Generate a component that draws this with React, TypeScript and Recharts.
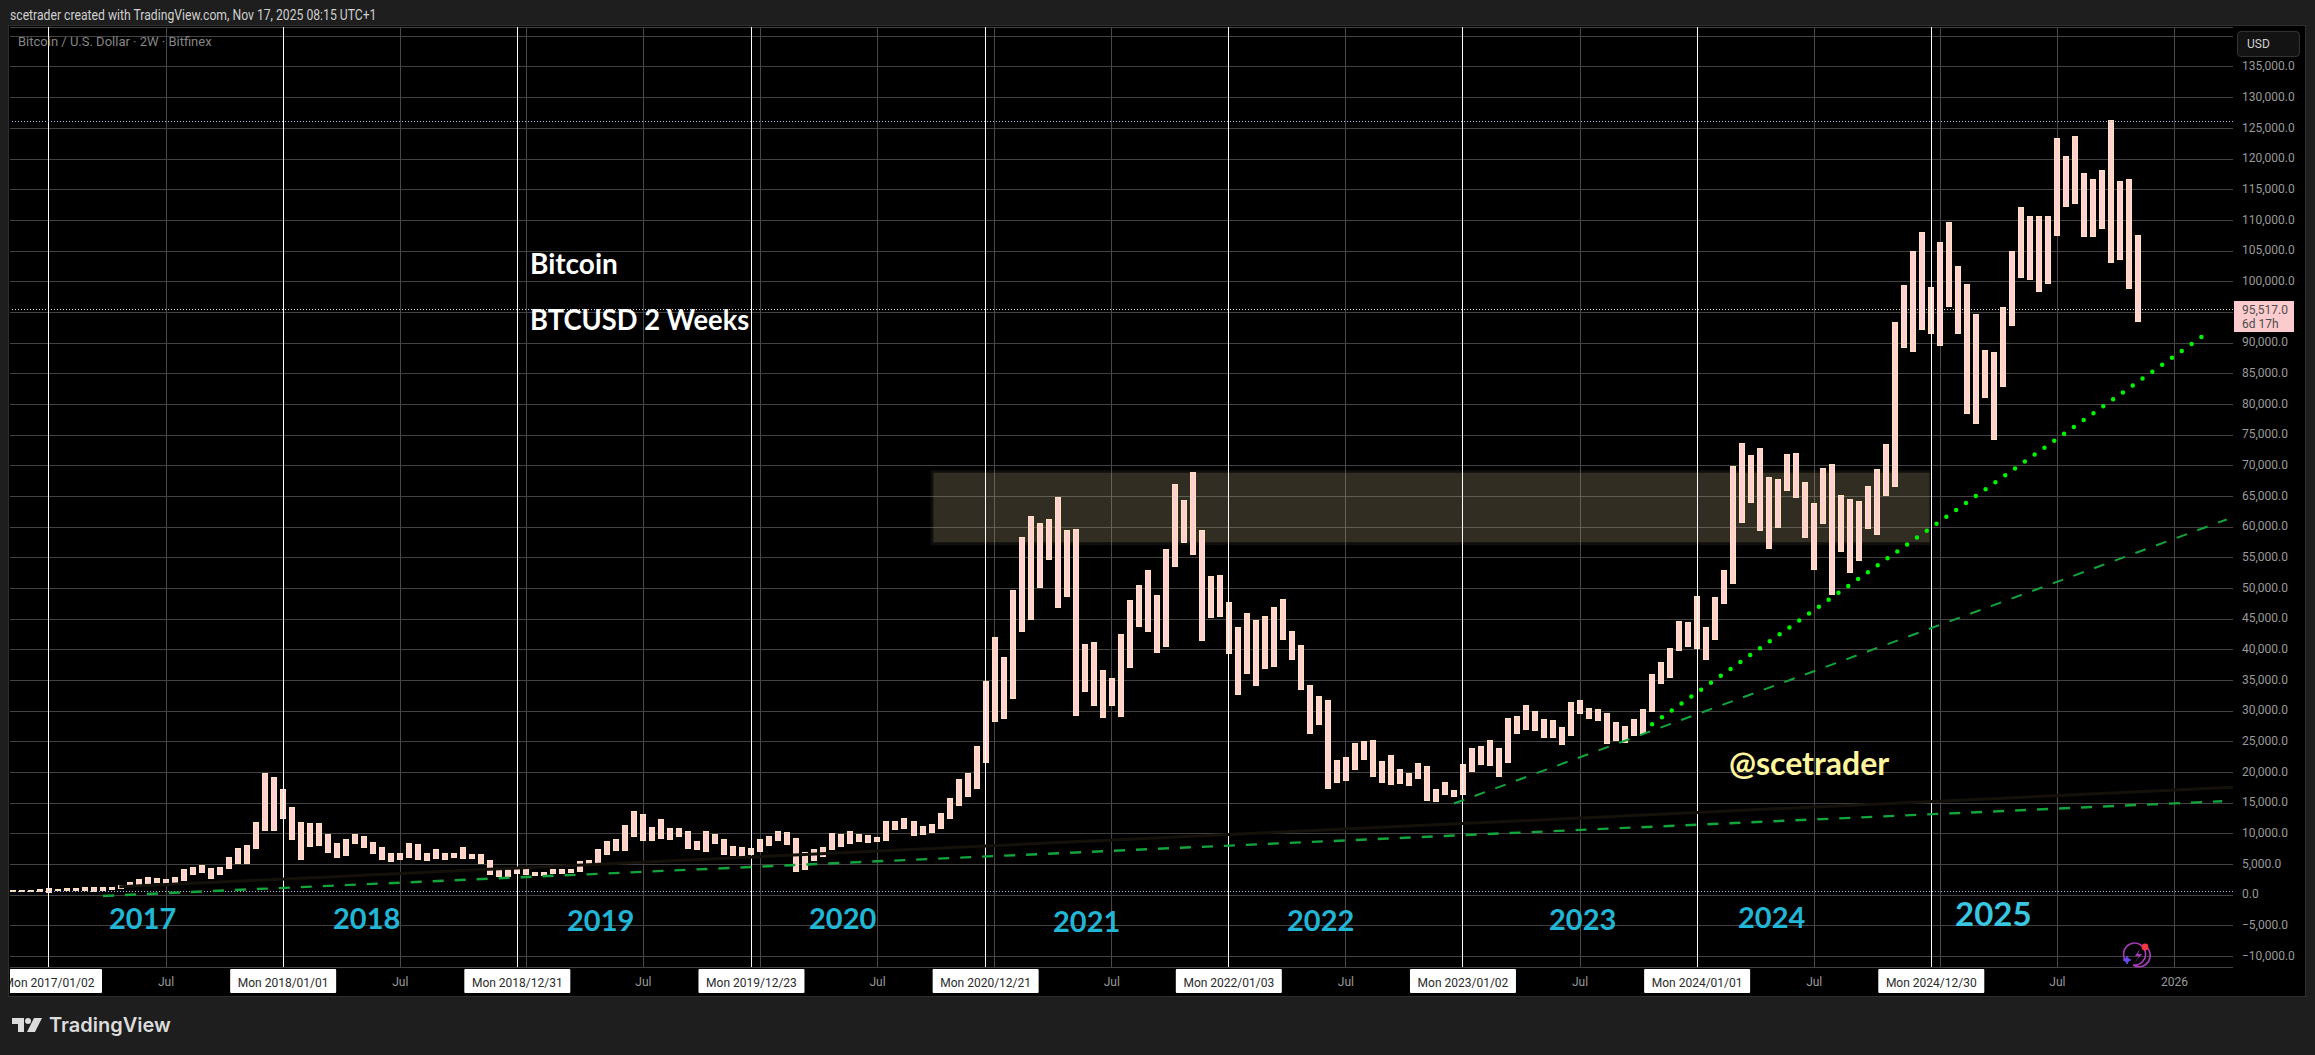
import React from 'react'
import {
  ComposedChart, Bar, Line, XAxis, YAxis, CartesianGrid, ReferenceLine, ReferenceArea,
} from 'recharts'

const firstBar = -4

// one entry per 2W bar, from bar -4 to bar 232 (bar 0 is 2017/01/02)
const barHighs = [
  815, 815, 815, 980, 1090, 980, 1090, 1140, 1300, 1250, 1300, 1300, 1630, 2120, 2600, 2930, 2770, 2600, 2930, 4240,
  4560, 4890, 4400, 4560, 6200, 7660, 8150, 11900, 19890, 19240, 17280, 14350, 11900, 11740, 11740, 9950, 8480, 9130, 9950, 9620,
  8640, 7830, 6850, 6850, 8480, 8320, 6850, 7500, 6850, 6850, 7830, 6680, 6680, 5700, 4240, 4400, 4240, 4240, 3750, 3750,
  4240, 4240, 4240, 5540, 5700, 7500, 8800, 9130, 11410, 13700, 13200, 11090, 12390, 10920, 10920, 10440, 8800, 10440, 9950, 9130,
  7990, 7830, 7660, 9130, 9620, 10440, 10270, 9290,
  7010, 7500, 7830, 10110, 9950, 10440, 9950, 9780, 9460, 12070, 12070, 12550, 12070, 11250, 11580, 13370, 15820, 18910, 19890, 24290,
  34890, 42070, 38810, 49730, 58370, 61800, 60650, 61310, 64890, 59510, 59680, 40930, 41250, 36690, 35380, 42560, 48100, 50550, 52990, 48920,
  56420, 67010, 64410, 68970, 59510, 52010, 52180, 47770, 43700, 45980, 44840, 45490, 46960, 48260, 43050, 40760, 34240, 32450, 31790, 22010,
  22500, 24780, 25110, 25270, 21850, 22830, 20540, 19890, 21520, 21030, 17280, 18420, 17120, 21360, 23970, 24290, 25270, 23970, 28860, 29190,
  30980, 30000, 28700, 28530, 27390, 31470, 31790, 30490, 30330, 29620, 28210, 27560, 28700, 30330, 36030, 37990, 40270, 44680, 44510, 48750,
  43700, 48590, 52990, 69950, 73700, 71740, 72880, 68150, 67830, 71900, 72070, 67340, 63920, 69620, 70270, 65220, 64570, 64240, 66690, 69460,
  73540, 93430, 99460, 105000, 108100, 99130, 106470, 109730, 102400, 99620, 94730, 88860, 88540, 95870, 105000, 112020, 110710, 110710, 110710, 123270,
  120330, 123750, 117720, 116740, 118050, 126200, 116260, 116580, 107610,
]

const barLows = [
  543, 543, 543, 600, 490, 710, 760, 760, 710, 600, 815, 920, 1090, 1470, 1630, 1960, 2120, 1630, 1790, 2450,
  3420, 3750, 2770, 3420, 4400, 5220, 5220, 7660, 10600, 10600, 12550, 9130, 5870, 7990, 8150, 7010, 6200, 6520, 8480, 7830,
  6850, 5870, 5540, 5870, 6200, 5870, 5700, 6030, 5870, 6200, 6030, 6030, 5220, 3420, 3100, 3100, 3590, 3420, 3260, 3260,
  3590, 3590, 3750, 3910, 4890, 5220, 6680, 7340, 7340, 9620, 8970, 8970, 9290, 9130, 9620, 7660, 7500, 7170, 8480, 6680,
  6520, 6360, 6680, 7170, 8150, 8970, 8320, 3910,
  4240, 5710, 6360, 7500, 7990, 8480, 8800, 8640, 8800, 8970, 10760, 10920, 9780, 9950, 10270, 10920, 12550, 14670, 16140, 17450,
  21690, 28370, 28860, 32120, 43050, 45000, 50220, 54780, 46960, 48750, 29350, 33260, 30980, 29020, 30980, 29190, 37180, 43860, 43050, 39620,
  40600, 53640, 57560, 55600, 41580, 45330, 45490, 39460, 32770, 36200, 34240, 37010, 37340, 41740, 38480, 33590, 26410, 27880, 17450, 18420,
  18750, 20540, 22170, 19400, 18420, 18100, 18260, 17940, 19080, 15490, 15330, 16470, 16140, 16470, 20220, 21360, 21200, 19400, 21690, 26410,
  27070, 26900, 25760, 25760, 24620, 26090, 29670, 28860, 28530, 24730, 25270, 24840, 25980, 26360, 29890, 34460, 35540, 39840, 40490, 40270,
  38480, 41740, 47610, 50760, 60820, 64080, 59510, 56580, 60000, 66030, 64890, 58370, 53150, 60650, 49080, 56090, 52660, 54620, 59840, 58860,
  65220, 66690, 89350, 88700, 92290, 91630, 89680, 96040, 91630, 78590, 76960, 81200, 74350, 82990, 92940, 100760, 100440, 98480, 99790, 107610,
  112180, 112670, 107450, 107290, 108750, 103210, 103700, 98970, 93590,
]

const gridBars = [0, 13, 26, 39, 53, 66, 79, 92, 105, 118, 131, 144, 157, 170, 183, 196, 210, 223, 236]
const gridLabels = ['2017', 'Jul', '2018', 'Jul', '2019', 'Jul', '2020', 'Jul', '2021', 'Jul', '2022', 'Jul', '2023', 'Jul', '2024', 'Jul', '2025', 'Jul', '2026']
const cycleBars = [0, 26, 52, 78, 104, 131, 157, 183, 209]
const cycleDates = ['Mon 2017/01/02', 'Mon 2018/01/01', 'Mon 2018/12/31', 'Mon 2019/12/23', 'Mon 2020/12/21', 'Mon 2022/01/03', 'Mon 2023/01/02', 'Mon 2024/01/01', 'Mon 2024/12/30']

const priceTicks = [
  -10000, -5000, 0, 5000, 10000, 15000, 20000, 25000, 30000, 35000, 40000, 45000, 50000, 55000, 60000, 65000,
  70000, 75000, 80000, 85000, 90000, 95000, 100000, 105000, 110000, 115000, 120000, 125000, 130000, 135000, 140000,
]
const hiddenPriceTicks = [95000, 140000]

const topPrice = 126100
const lastPrice = 95517
const lowPrice = 600

const longTrendBars = [6, 241.3]
const longTrendValues = [-110, 15330]
const midTrendBars = [156, 241.8]
const midTrendValues = [14950, 61250]
const steepTrendBars = [178, 239.1]
const steepTrendValues = [27880, 91090]
const fadedTrendBars = [7.8, 242.5]
const fadedTrendValues = [1390, 17600]

const zoneBars = [97.9, 208.9]
const zoneOuter = [57060, 69290]
const zoneInner = [57550, 68850]

const barData = barHighs.map((high, k) => ({ bar: k + firstBar, range: [barLows[k], high] }))
const toLine = (bars: number[], values: number[]) => bars.map((bar, k) => ({ bar, value: values[k] }))

const formatPrice = (v: number) =>
  (v < 0 ? '\u2212' : '') + Math.abs(v).toLocaleString('en-US', { minimumFractionDigits: 1, maximumFractionDigits: 1 })

function TimeTick({ x, y, payload }: any) {
  const cycle = cycleBars.indexOf(payload.value)
  if (cycle >= 0) {
    return (
      <g>
        <rect x={x - 53} y={y} width={106} height={24} rx={1} fill="#ffffff" />
        <text x={x} y={y + 15} textAnchor="middle" dominantBaseline="middle" fill="#2a2a2a" fontSize={12} fontFamily="Roboto">
          {cycleDates[cycle]}
        </text>
      </g>
    )
  }
  const grid = gridBars.indexOf(payload.value)
  const label = grid >= 0 ? gridLabels[grid] : ''
  if (label !== 'Jul' && label !== '2026') return null
  return (
    <text x={x} y={y + 14} textAnchor="middle" dominantBaseline="middle" fill="#9a9a9a" fontSize={12} fontFamily="Roboto">
      {label}
    </text>
  )
}

function PriceTick({ x, y, payload }: any) {
  if (hiddenPriceTicks.includes(payload.value)) return null
  return (
    <text x={x} y={y} textAnchor="start" dominantBaseline="middle" fill="#9a9a9a" fontSize={12} fontFamily="Roboto">
      {formatPrice(payload.value)}
    </text>
  )
}

// the band that Recharts hands out is narrower than the candle, so keep its centre and set the width
function PriceBar({ x, y, width, height }: any) {
  return (
    <rect
      x={x + width / 2 - 2.5}
      y={y}
      width={5}
      height={height}
      fill="#ffd0cf"
      stroke="#ffe3bd"
      strokeWidth={1}
      shapeRendering="crispEdges"
    />
  )
}

const yearNotes = [
  { text: '2017', left: 109, top: 903, size: 29 },
  { text: '2018', left: 333, top: 903, size: 29 },
  { text: '2019', left: 567, top: 905, size: 29 },
  { text: '2020', left: 809, top: 903, size: 29 },
  { text: '2021', left: 1053, top: 906, size: 29 },
  { text: '2022', left: 1287, top: 905, size: 29 },
  { text: '2023', left: 1549, top: 904, size: 29 },
  { text: '2024', left: 1738, top: 902, size: 29 },
  { text: '2025', left: 1955, top: 897, size: 33 },
]

const noteStyle: React.CSSProperties = { position: 'absolute', whiteSpace: 'nowrap', lineHeight: 1, fontFamily: 'Lato', fontWeight: 700 }

export default function App() {
  return (
    <div style={{ position: 'absolute', left: 0, top: 0, width: 2315, height: 1055, background: '#1e1e1e', overflow: 'hidden' }}>
      <div style={{ position: 'absolute', left: 10, top: 7, color: '#cfcfcf', fontSize: 14, fontFamily: 'Roboto', whiteSpace: 'nowrap', transform: 'scaleX(0.87)', transformOrigin: 'left' }}>
        scetrader created with TradingView.com, Nov 17, 2025 08:15 UTC+1
      </div>

      <div style={{ position: 'absolute', left: 9, top: 26, width: 2296, height: 970, background: '#000', boxShadow: '0 0 0 1px #2e2e2e' }}>
        <div style={{ position: 'absolute', left: 1, top: 1 }}>
          <ComposedChart width={2294} height={968} data={barData} margin={{ top: 0, right: 0, bottom: 0, left: 0 }}>
            <ReferenceArea x1={zoneBars[0]} x2={zoneBars[1]} y1={zoneOuter[0]} y2={zoneOuter[1]} fill="#b8a684" fillOpacity={0.09} stroke="none" />
            <ReferenceArea x1={zoneBars[0] + 0.3} x2={zoneBars[1] - 0.1} y1={zoneInner[0]} y2={zoneInner[1]} fill="#b8a684" fillOpacity={0.2} stroke="none" />
            <CartesianGrid horizontal vertical={false} stroke="#424242" shapeRendering="crispEdges" />
            <CartesianGrid horizontal={false} vertical stroke="#484848" shapeRendering="crispEdges" verticalValues={gridBars} />
            <XAxis
              type="number"
              dataKey="bar"
              domain={[-4.33, 242.5]}
              allowDataOverflow
              ticks={[...new Set([...gridBars, ...cycleBars])].sort((a, b) => a - b)}
              interval={0}
              height={28}
              axisLine={false}
              tickLine={false}
              tickSize={0}
              tick={<TimeTick />}
            />
            <YAxis
              type="number"
              orientation="right"
              domain={[-11690, 141516]}
              allowDataOverflow
              ticks={priceTicks}
              interval={0}
              width={71}
              axisLine={false}
              tickLine={false}
              tickSize={0}
              tickMargin={9}
              tick={<PriceTick />}
            />
            {cycleBars.map((bar) => (
              <ReferenceLine key={bar} x={bar} stroke="#ffffff" strokeWidth={1} shapeRendering="crispEdges" />
            ))}
            <ReferenceLine y={topPrice} stroke="#a9bcf0" strokeDasharray="1 2" shapeRendering="crispEdges" />
            <ReferenceLine y={lastPrice} stroke="#e8e8e8" strokeDasharray="1 2" shapeRendering="crispEdges" />
            <ReferenceLine y={lowPrice} stroke="#a9bcf0" strokeDasharray="1 2" shapeRendering="crispEdges" />
            <Line data={toLine(fadedTrendBars, fadedTrendValues)} dataKey="value" stroke="#14110b" strokeWidth={3} dot={false} activeDot={false} isAnimationActive={false} />
            <Line data={toLine(longTrendBars, longTrendValues)} dataKey="value" stroke="#12a53c" strokeWidth={2.4} strokeDasharray="11 11" dot={false} activeDot={false} isAnimationActive={false} />
            <Line data={toLine(midTrendBars, midTrendValues)} dataKey="value" stroke="#12a53c" strokeWidth={2} strokeDasharray="11 11" dot={false} activeDot={false} isAnimationActive={false} />
            <Line data={toLine(steepTrendBars, steepTrendValues)} dataKey="value" stroke="#00f500" strokeWidth={4.5} strokeDasharray="0 12" strokeLinecap="round" dot={false} activeDot={false} isAnimationActive={false} />
            <Bar dataKey="range" barSize={6} fill="#ffd0cf" shape={<PriceBar />} isAnimationActive={false} />
          </ComposedChart>
        </div>
      </div>

      <div style={{ position: 'absolute', left: 18, top: 34, color: '#858585', fontSize: 13, fontFamily: 'Roboto' }}>
        Bitcoin / U.S. Dollar · 2W · Bitfinex
      </div>

      <div style={{ ...noteStyle, left: 530, top: 249, color: '#fff', fontSize: 28 }}>Bitcoin</div>
      <div style={{ ...noteStyle, left: 530, top: 305, color: '#fff', fontSize: 28, transform: 'scaleX(0.975)', transformOrigin: 'left' }}>BTCUSD 2 Weeks</div>
      <div style={{ ...noteStyle, left: 1729, top: 747, color: '#fff59d', fontSize: 32 }}>@scetrader</div>
      {yearNotes.map((n) => (
        <div key={n.text} style={{ ...noteStyle, left: n.left, top: n.top, color: n.text === '2025' ? '#38c6e0' : '#22b6d6', fontSize: n.size }}>
          {n.text}
        </div>
      ))}

      <div style={{ position: 'absolute', left: 2237, top: 31, width: 63, height: 26, boxSizing: 'border-box', background: '#131313', border: '1px solid #333', borderRadius: 4, color: '#cfcfcf', fontSize: 12, fontFamily: 'Roboto', lineHeight: '24px', paddingLeft: 9 }}>
        USD
      </div>
      <div style={{ position: 'absolute', left: 2234, top: 301, width: 60, height: 31, background: '#fccbcd', color: '#4d4d4d', fontSize: 12, fontFamily: 'Roboto', lineHeight: '14px', paddingLeft: 8, paddingTop: 2, boxSizing: 'border-box' }}>
        <div>95,517.0</div>
        <div>6d 17h</div>
      </div>

      <svg style={{ position: 'absolute', left: 2120, top: 940 }} width={34} height={30} viewBox="0 0 34 30">
        <path d="M 6 21 A 11 11 0 1 1 13 25 M 25 6 A 11 11 0 0 1 13 25" fill="none" stroke="#a63cb8" strokeWidth={1.6} />
        <path d="M 20 9 L 15 16 L 19 16 L 15 22 L 22 14 L 18 14 Z" fill="#a63cb8" />
        <path d="M 7 16 Q 8 20 11 20 Q 8 20 7 24 Q 6 20 3 20 Q 6 20 7 16 Z" fill="#6a48f2" stroke="#6a48f2" />
        <circle cx={25} cy={7} r={3.4} fill="#f23645" />
      </svg>

      <svg style={{ position: 'absolute', left: 12, top: 1018 }} width={30} height={14} viewBox="0 0 30 14">
        <path d="M 0 0 H 12 V 14 H 6 V 6 H 0 Z" fill="#dcdcdc" />
        <circle cx={16} cy={3} r={3} fill="#dcdcdc" />
        <path d="M 22 0 H 30 L 23 14 H 15 Z" fill="#dcdcdc" />
      </svg>
      <div style={{ position: 'absolute', left: 49, top: 1013, color: '#dcdcdc', fontSize: 20, fontWeight: 600, fontFamily: 'Inter', lineHeight: '24px' }}>
        TradingView
      </div>
    </div>
  )
}
